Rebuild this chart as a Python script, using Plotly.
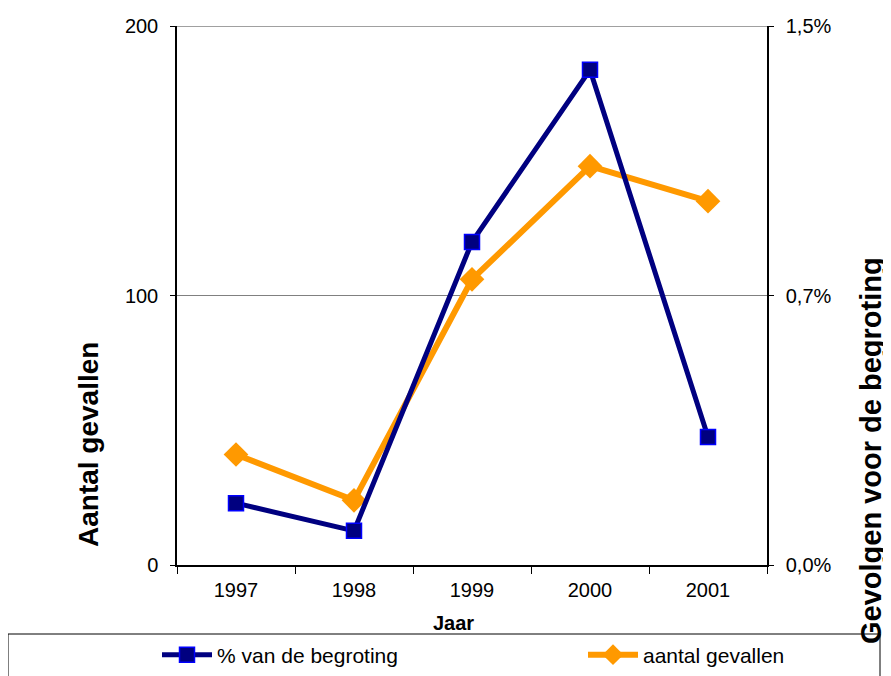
import plotly.graph_objects as go

years = ["1997", "1998", "1999", "2000", "2001"]
pct_begroting = [0.172, 0.095, 0.899, 1.378, 0.356]   # % van de begroting (right axis)
aantal_gevallen = [41, 24, 106, 148, 135]            # aantal gevallen (left axis)

left_ticks = [0, 100, 200]
right_tickvals = [0, 0.75, 1.5]
right_ticktext = ["0,0%", "0,7%", "1,5%"]

W, H = 891, 676
OFF = 8  # page body margin offset in the browser
L, R, T, B = 177 - OFF, 767 - OFF, 26 - OFF, 565 - OFF

def px_x(p):
    return (p - OFF - L) / (R - L)

def px_y(p):
    return (B - (p - OFF)) / (B - T)

FONT = "Liberation Sans, Arial, sans-serif"
TICK = 20

fig = go.Figure()
fig.add_trace(go.Scatter(
    x=years, y=pct_begroting, name="% van de begroting", yaxis="y2",
    mode="lines+markers", legend="legend",
    line=dict(color="#000080", width=5),
    marker=dict(symbol="square", size=15, color="#000080",
                line=dict(color="#0000FF", width=1.5)),
))
fig.add_trace(go.Scatter(
    x=years, y=aantal_gevallen, name="aantal gevallen", yaxis="y",
    mode="lines+markers", legend="legend2",
    line=dict(color="#FF9900", width=6),
    marker=dict(symbol="diamond", size=19, color="#FF9900",
                line=dict(color="#FF9900", width=0)),
))

legend_common = dict(
    orientation="h", xanchor="left", yanchor="middle",
    font=dict(size=21, family=FONT), bgcolor="rgba(0,0,0,0)", borderwidth=0,
    itemwidth=50,
)

fig.update_layout(
    width=W, height=H,
    margin=dict(l=L, r=W - R, t=T, b=H - B, autoexpand=False),
    paper_bgcolor="white", plot_bgcolor="white",
    font=dict(family=FONT, size=TICK, color="black"),
    showlegend=True,
    xaxis=dict(
        type="category", tickson="boundaries", ticks="outside", ticklen=7,
        tickcolor="black", showline=True, linecolor="black", linewidth=1.5,
        showgrid=False, tickfont=dict(size=TICK), range=[-0.5, 4.5],
        zeroline=False, ticklabelstandoff=6,
    ),
    yaxis=dict(
        range=[0, 200], tickvals=left_ticks, ticks="outside", ticklen=5,
        tickcolor="black", showline=True, linecolor="black", linewidth=1.5,
        showgrid=True, gridcolor="#808080", gridwidth=1, zeroline=False,
        tickfont=dict(size=TICK), ticklabelstandoff=8,
    ),
    yaxis2=dict(
        range=[0, 1.5], tickvals=right_tickvals, ticktext=right_ticktext,
        overlaying="y", side="right", ticks="outside", ticklen=5,
        tickcolor="black", showline=True, linecolor="black", linewidth=1.5,
        showgrid=False, zeroline=False, tickfont=dict(size=TICK),
        ticklabelstandoff=8,
    ),
    legend=dict(x=px_x(157), y=px_y(655), **legend_common),
    legend2=dict(x=px_x(583), y=px_y(655), **legend_common),
    shapes=[
        dict(type="line", xref="paper", yref="y", x0=0, x1=1,
             y0=left_ticks[-1], y1=left_ticks[-1],
             line=dict(color="#808080", width=1.5)),
        dict(type="rect", xref="paper", yref="paper",
             x0=px_x(8), x1=px_x(880), y0=px_y(634), y1=px_y(700),
             line=dict(color="black", width=1), fillcolor="rgba(0,0,0,0)",
             layer="below"),
    ],
    annotations=[
        dict(text="<b>Aantal gevallen</b>", xref="paper", yref="paper",
             x=px_x(88), y=px_y(445), textangle=-90, showarrow=False,
             font=dict(size=28, family=FONT), xanchor="center", yanchor="middle"),
        dict(text="<b>Gevolgen voor de begroting</b>", xref="paper", yref="paper",
             x=px_x(871), y=px_y(451), textangle=-90, showarrow=False,
             font=dict(size=29, family=FONT), xanchor="center", yanchor="middle"),
        dict(text="<b>Jaar</b>", xref="paper", yref="paper",
             x=px_x(453), y=px_y(623), showarrow=False,
             font=dict(size=20, family=FONT), xanchor="center", yanchor="middle"),
    ],
)

fig.write_html("out.html")
